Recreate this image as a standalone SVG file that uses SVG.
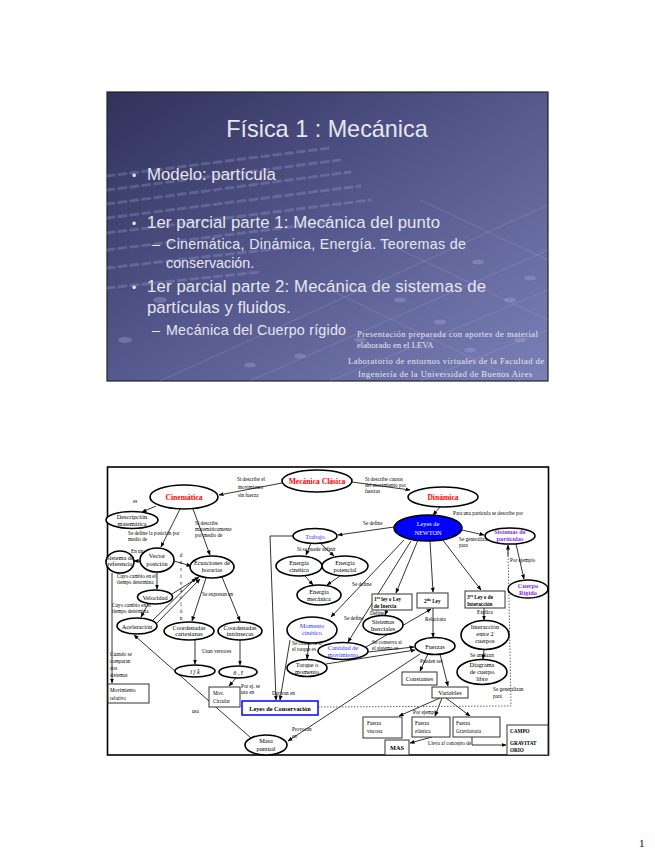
<svg xmlns="http://www.w3.org/2000/svg" width="655" height="848" viewBox="0 0 655 848">
<defs>
<linearGradient id="bg" x1="0" y1="0" x2="1" y2="1">
<stop offset="0" stop-color="#30325a"/>
<stop offset="0.5" stop-color="#55598e"/>
<stop offset="1" stop-color="#7b80b6"/>
</linearGradient>
<marker id="ah" viewBox="0 0 10 10" refX="9" refY="5" markerWidth="5" markerHeight="5" orient="auto" markerUnits="userSpaceOnUse"><path d="M0,1 L10,5 L0,9 z" fill="#000"/></marker>
<style>
.st{font-family:"Liberation Sans",Arial,sans-serif;fill:#e6e6f0}
.sm{font-family:"Liberation Serif","Times New Roman",serif;fill:#e6e6f0;font-size:8.6px}
.deco{stroke:#a9addc;stroke-opacity:.28;fill:none}
.n{font-family:"Liberation Serif","Times New Roman",serif;font-size:6.3px;text-anchor:middle;fill:#000}
.t{font-family:"Liberation Serif","Times New Roman",serif;font-size:5.2px;fill:#000}
.b{font-weight:bold}
.red{fill:#ff0000;font-weight:bold;font-size:7.6px}
.blu{fill:#3030ff}
.pur{fill:#8a2be2;font-weight:bold}
.el{fill:#fff;stroke:#000;stroke-width:1.6}
.bx{fill:#fff;stroke:#333;stroke-width:1}
.c{stroke:#000;stroke-width:0.8;fill:none;marker-end:url(#ah)}
.dot{stroke:#666;stroke-width:1;stroke-dasharray:1.5 1.5;fill:none}
</style>
</defs>
<rect width="655" height="848" fill="#fff"/>

<!-- Slide 1 -->
<g id="slide">
<rect x="107" y="92" width="441" height="289" fill="url(#bg)" stroke="#222" stroke-width="1.2"/>
<g class="deco" stroke-width="3" stroke-dasharray="7 5" stroke-linecap="round">
<path d="M107,176 L330,148"/><path d="M107,190 L340,160"/><path d="M107,204 L350,172"/>
<path d="M107,218 L360,186"/><path d="M107,233 L370,200"/><path d="M107,250 L330,222"/>
<path d="M107,268 L300,246"/><path d="M107,288 L260,272"/>
</g>
<g class="deco" stroke-width="1">
<path d="M250,381 L548,250"/><path d="M330,381 L548,290"/><path d="M420,381 L548,330"/>
<path d="M160,381 L548,205"/><path d="M420,200 L548,260"/><path d="M380,240 L548,320"/>
<path d="M330,290 L520,381"/>
</g>
<g fill="#a9addc" fill-opacity=".35">
<ellipse cx="478" cy="262" rx="6" ry="2.5"/><ellipse cx="510" cy="300" rx="6" ry="2.5"/><ellipse cx="530" cy="278" rx="6" ry="2.5"/>
<ellipse cx="440" cy="322" rx="6" ry="2.5"/><ellipse cx="470" cy="350" rx="6" ry="2.5"/><ellipse cx="520" cy="340" rx="6" ry="2.5"/>
<ellipse cx="400" cy="300" rx="6" ry="2.5"/><ellipse cx="360" cy="340" rx="6" ry="2.5"/><ellipse cx="300" cy="356" rx="6" ry="2.5"/>
<ellipse cx="250" cy="365" rx="6" ry="2.5"/><ellipse cx="125" cy="340" rx="7" ry="3"/><ellipse cx="160" cy="300" rx="7" ry="3"/>
</g>
<text class="st" x="327" y="137" font-size="23.4" text-anchor="middle" fill="#dcdce8">Física 1 : Mecánica</text>
<text class="st" x="132" y="180" font-size="12">•</text>
<text class="st" x="147" y="180" font-size="16.8">Modelo: partícula</text>
<text class="st" x="132" y="228" font-size="12">•</text>
<text class="st" x="147" y="228" font-size="16.8" textLength="293">1er parcial parte 1: Mecánica del punto</text>
<text class="st" x="152" y="249" font-size="14.3">–</text>
<text class="st" x="166" y="249" font-size="14.3" textLength="300">Cinemática, Dinámica, Energía. Teoremas de</text>
<text class="st" x="166" y="268" font-size="14.3">conservación.</text>
<text class="st" x="132" y="292" font-size="12">•</text>
<text class="st" x="147" y="292" font-size="16.8" textLength="339">1er parcial parte 2: Mecánica de sistemas de</text>
<text class="st" x="147" y="313" font-size="16.8">partículas y fluidos.</text>
<text class="st" x="152" y="335" font-size="14.3">–</text>
<text class="st" x="166" y="335" font-size="14.3" textLength="180">Mecánica del Cuerpo rígido</text>
<text class="sm" x="357" y="337" textLength="181">Presentación preparada con aportes de material</text>
<text class="sm" x="357" y="348">elaborado en el LEVA</text>
<text class="sm" x="348" y="364" textLength="196">Laboratorio de entornos virtuales de la Facultad de</text>
<text class="sm" x="358" y="377" textLength="174">Ingeniería de la Universidad de Buenos Aires</text>
</g>

<!-- Concept map frame -->
<rect x="107.5" y="467" width="441" height="288" fill="#fff" stroke="#000" stroke-width="1.6"/>

<g id="connectors">
<path class="c" d="M282,483 L219,495"/>
<path class="c" d="M352,482 L410,490"/>
<path class="c" d="M156,506 L142,512"/>
<path class="c" d="M180,509 L161,547"/>
<path class="c" d="M193,509 L210,555"/>
<path class="c" d="M140,561 L134,561"/>
<path class="c" d="M157,572 L157,589"/>
<path class="c" d="M174,561 L191,566"/>
<path class="c" d="M148,604 L141,617"/>
<path class="c" d="M172,594 L199,577"/>
<path class="c" d="M153,620 L196,578"/>
<path class="c" d="M157,623 L200,579"/>
<path class="c" d="M112,573 L112,683"/>
<path class="c" d="M206,578 L192,621"/>
<path class="c" d="M222,577 L240,621"/>
<path class="c" d="M195,640 L195,664"/>
<path class="c" d="M240,640 L240,665"/>
<path class="c" d="M236,678 L229,686"/>
<path class="c" d="M251,738 L134,635"/>
<path class="c" d="M440,507 L433,515"/>
<path class="c" d="M462,530 L484,535"/>
<path class="c" d="M516,544 L524,579"/>
<path class="c" d="M394,527 L338,535"/>
<path class="c" d="M311,543 L306,555"/>
<path class="c" d="M320,543 L334,556"/>
<path class="c" d="M305,576 L313,585"/>
<path class="c" d="M340,576 L327,585"/>
<path class="c" d="M293,536 L270,536 L276,700"/>
<path class="c" d="M290,640 L280,700"/>
<path class="c" d="M404,540 L331,617"/>
<path class="c" d="M411,541 L348,642"/>
<path class="c" d="M418,540 L396,593"/>
<path class="c" d="M430,541 L433,592"/>
<path class="c" d="M442,539 L481,590"/>
<path class="c" d="M387,610 L385,615"/>
<path class="c" d="M309,643 L307,659"/>
<path class="c" d="M366,647 L431,609"/>
<path class="c" d="M368,652 L414,647"/>
<path class="c" d="M326,664 L415,650"/>
<path class="c" d="M433,608 L433,637"/>
<path class="c" d="M484,608 L484,620"/>
<path class="c" d="M484,650 L483,659"/>
<path class="c" d="M428,654 L420,671"/>
<path class="c" d="M440,654 L448,686"/>
<path class="c" d="M420,654 L288,741"/>
<path class="c" d="M440,698 L399,716"/>
<path class="c" d="M442,698 L435,716"/>
<path class="c" d="M446,698 L470,716"/>
<path class="c" d="M432,737 L410,743"/>
<path class="c" d="M472,737 L472,745 L506,745"/>
<path class="dot" d="M318,707 L511,706 L508,548"/>
<path class="c" d="M508,556 L508,545"/>
</g>

<g id="labels">
<text class="t" x="237" y="481">Si describe el</text>
<text class="t" x="238" y="489">movimiento</text>
<text class="t" x="238" y="497">sin fuerza</text>
<text class="t" x="365" y="481">Si describe causas</text>
<text class="t" x="365" y="487">del movimiento por</text>
<text class="t" x="365" y="493">fuerzas</text>
<text class="t" x="133" y="503">es</text>
<text class="t" x="128" y="535">Se define la posición por</text>
<text class="t" x="128" y="541">medio de</text>
<text class="t" x="195" y="525">Si describe</text>
<text class="t" x="195" y="531">matemáticamente</text>
<text class="t" x="195" y="537">por medio de</text>
<text class="t" x="131" y="553">En un</text>
<text class="t" x="117" y="578">Cuyo cambio en el</text>
<text class="t" x="117" y="584">tiempo determina</text>
<text class="t" x="112" y="607">Cuyo cambio en el</text>
<text class="t" x="112" y="613">tiempo determina</text>
<text class="t" x="181" y="557" text-anchor="middle"><tspan x="181">d</tspan><tspan x="181" dy="7">e</tspan><tspan x="181" dy="7">r</tspan><tspan x="181" dy="7">i</tspan><tspan x="181" dy="7">v</tspan><tspan x="181" dy="7">a</tspan><tspan x="181" dy="7">c</tspan><tspan x="181" dy="7">i</tspan><tspan x="181" dy="7">ó</tspan><tspan x="181" dy="7">n</tspan></text>
<text class="t" x="202" y="596">Se expresan en</text>
<text class="t" x="202" y="653">Usan versores</text>
<text class="t" x="110" y="656">Cuando se</text>
<text class="t" x="110" y="663">comparan</text>
<text class="t" x="110" y="670">dos</text>
<text class="t" x="110" y="677">sistemas</text>
<text class="t" x="241" y="688">Por ej. se</text>
<text class="t" x="241" y="694">usa en</text>
<text class="t" x="192" y="713">usa</text>
<text class="t" x="272" y="695">Derivan en</text>
<text class="t" x="292" y="731">Provocan</text>
<text class="t" x="292" y="738">en</text>
<text class="t" x="453" y="515">Para una partícula se describe por</text>
<text class="t" x="459" y="541">Se generalizan</text>
<text class="t" x="459" y="547">para</text>
<text class="t" x="510" y="562">Por ejemplo</text>
<text class="t" x="363" y="525">Se define</text>
<text class="t" x="297" y="551">Si se puede definir</text>
<text class="t" x="352" y="586">Se define</text>
<text class="t" x="344" y="620">Se define</text>
<text class="t" x="370" y="615">Define</text>
<text class="t" x="425" y="621">Relaciona</text>
<text class="t" x="477" y="614">Explica</text>
<text class="t" x="292" y="645">Se conserva si</text>
<text class="t" x="292" y="651">el torque es</text>
<text class="t" x="372" y="644">Se conserva si</text>
<text class="t" x="372" y="650">el sistema es</text>
<text class="t" x="470" y="657">Se analizan</text>
<text class="t" x="420" y="663">Pueden ser</text>
<text class="t" x="413" y="714">Por ejemplo</text>
<text class="t" x="428" y="745">Lleva al concepto de</text>
<text class="t" x="493" y="691">Se generalizan</text>
<text class="t" x="493" y="698">para</text>
</g>

<g id="mecanica-clasica"><ellipse class="el" cx="317" cy="481" rx="35" ry="11"/><text class="n red" x="317" y="484" font-size="8.4">Mecánica Clásica</text></g>
<g id="cinematica"><ellipse class="el" cx="184" cy="497" rx="34" ry="12"/><text class="n red" x="184" y="500">Cinemática</text></g>
<g id="dinamica"><ellipse class="el" cx="443" cy="497" rx="35" ry="10"/><text class="n red" x="443" y="500">Dinámica</text></g>
<g id="descripcion"><ellipse class="el" cx="132" cy="520" rx="26" ry="8.5"/><text class="n" x="132" y="518.5">Descripción</text><text class="n" x="132" y="525.5">matemática</text></g>
<g id="vector"><ellipse class="el" cx="157" cy="560" rx="17" ry="12"/><text class="n" x="157" y="558" font-size="7">Vector</text><text class="n" x="157" y="565.5" font-size="7">posición</text></g>
<g id="sistema-ref"><ellipse class="el" cx="120" cy="562" rx="14" ry="11"/><text class="n" x="120" y="560" font-size="5.2">Sistema de</text><text class="n" x="120" y="566" font-size="5.2">referencia</text></g>
<g id="ecuaciones"><ellipse class="el" cx="212" cy="567" rx="22" ry="11"/><text class="n" x="212" y="565" font-size="6">Ecuaciones de</text><text class="n" x="212" y="572" font-size="6">horarias</text></g>
<g id="velocidad"><ellipse class="el" cx="155" cy="597" rx="17.5" ry="7"/><text class="n" x="155" y="599.5">Velocidad</text></g>
<g id="aceleracion"><ellipse class="el" cx="137" cy="626" rx="20" ry="8"/><text class="n" x="137" y="628.5">Aceleración</text></g>
<g id="cartesianas"><ellipse class="el" cx="189" cy="631" rx="25" ry="9"/><text class="n" x="189" y="629.5">Coordenadas</text><text class="n" x="189" y="636">cartesianas</text></g>
<g id="intrinsecas"><ellipse class="el" cx="240" cy="631" rx="22" ry="9"/><text class="n" x="240" y="629.5">Coordenadas</text><text class="n" x="240" y="636">intrínsecas</text></g>
<g id="ijk"><ellipse class="el" cx="195" cy="671" rx="20" ry="6"/><text class="n" x="195" y="674" font-size="8" font-style="italic">î  ĵ  k̂</text></g>
<g id="nt"><ellipse class="el" cx="238" cy="672" rx="19" ry="6"/><text class="n" x="238" y="675" font-size="8" font-style="italic">n̂ , t̂</text></g>
<g id="mov-circular"><rect class="bx" x="209" y="687" width="31" height="20"/><text class="t" x="213" y="695" font-size="6">Mov.</text><text class="t" x="213" y="703" font-size="6">Circular</text></g>
<g id="mov-relativo"><rect class="bx" x="108" y="684" width="41" height="19"/><text class="t" x="110" y="692" font-size="6">Movimiento</text><text class="t" x="110" y="700" font-size="6">relativo</text></g>
<g id="leyes-conservacion"><rect x="242" y="701" width="76" height="14" fill="#fff" stroke="#0000ff" stroke-width="1.5"/><text class="n b" x="280" y="710.5" font-size="6.2">Leyes de Conservación</text></g>
<g id="masa"><ellipse class="el" cx="266" cy="745" rx="21" ry="10"/><text class="n" x="266" y="743">Masa</text><text class="n" x="266" y="750.5">puntual</text></g>
<g id="trabajo"><ellipse class="el" cx="315" cy="536" rx="22" ry="7.5"/><text class="n blu" x="315" y="538.5">Trabajo</text></g>
<g id="newton"><ellipse cx="428" cy="528" rx="34" ry="13" fill="#0000ff" stroke="#000" stroke-width="1.6"/><text class="n" x="428" y="526" font-size="8" style="fill:#fff">Leyes de</text><text class="n" x="428" y="535" font-size="8" style="fill:#fff">NEWTON</text></g>
<g id="sistemas-particulas"><ellipse class="el" cx="510" cy="536" rx="25" ry="8"/><text class="n pur" x="510" y="534" font-size="5.8">Sistemas de</text><text class="n pur" x="510" y="541" font-size="5.8">partículas</text></g>
<g id="cuerpo-rigido"><ellipse class="el" cx="528" cy="589" rx="20" ry="9"/><text class="n pur" x="528" y="588">Cuerpo</text><text class="n pur" x="528" y="595">Rígido</text></g>
<g id="energia-cinetica"><ellipse class="el" cx="299" cy="566" rx="23" ry="10"/><text class="n" x="299" y="564.5">Energía</text><text class="n" x="299" y="571.5">cinética</text></g>
<g id="energia-potencial"><ellipse class="el" cx="345" cy="566" rx="23" ry="10"/><text class="n" x="345" y="564.5">Energía</text><text class="n" x="345" y="571.5">potencial</text></g>
<g id="energia-mecanica"><ellipse class="el" cx="319" cy="595" rx="22" ry="10"/><text class="n" x="319" y="593.5">Energía</text><text class="n" x="319" y="600.5">mecánica</text></g>
<g id="ley1"><rect class="bx" x="372" y="594" width="40" height="16"/><text class="t b" x="374" y="601" font-size="5.2">1<tspan font-size="3.5" dy="-2">ra</tspan><tspan dy="2"> ley o Ley</tspan></text><text class="t b" x="374" y="608" font-size="5.2">de Inercia</text></g>
<g id="ley2"><rect class="bx" x="417" y="593" width="31" height="15"/><text class="t b" x="424" y="602.5" font-size="6">2<tspan font-size="4" dy="-2">da</tspan><tspan dy="2"> Ley</tspan></text></g>
<g id="ley3"><rect class="bx" x="465" y="591" width="40" height="17"/><text class="t b" x="467" y="598.5" font-size="5.2">3<tspan font-size="3.5" dy="-2">ra</tspan><tspan dy="2"> Ley o de</tspan></text><text class="t b" x="467" y="606" font-size="5.2">Interacción</text></g>
<g id="inerciales"><ellipse class="el" cx="383" cy="625" rx="20" ry="9.5"/><text class="n" x="383" y="623.5">Sistemas</text><text class="n" x="383" y="630.5">Inerciales</text></g>
<g id="momento-cinetico"><ellipse class="el" cx="312" cy="630" rx="25" ry="13"/><text class="n blu" x="312" y="628">Momento</text><text class="n blu" x="312" y="635">cinético</text></g>
<g id="torque"><ellipse class="el" cx="307" cy="668" rx="20" ry="8.5"/><text class="n" x="307" y="666.5">Torque o</text><text class="n" x="307" y="673.5">momento</text></g>
<g id="cantidad"><ellipse class="el" cx="343" cy="651" rx="25" ry="8.5"/><text class="n blu" x="343" y="649.5">Cantidad de</text><text class="n blu" x="343" y="656.5">movimiento</text></g>
<g id="fuerzas"><ellipse class="el" cx="435" cy="646" rx="20" ry="8.5"/><text class="n" x="435" y="648.5" font-size="7">Fuerzas</text></g>
<g id="interaccion"><ellipse class="el" cx="485" cy="635" rx="24" ry="14.5"/><text class="n" x="485" y="629">Interacción</text><text class="n" x="485" y="636">entre 2</text><text class="n" x="485" y="643">cuerpos</text></g>
<g id="diagrama"><ellipse class="el" cx="482" cy="672" rx="25" ry="12.5"/><text class="n" x="482" y="666.5">Diagrama</text><text class="n" x="482" y="673.5">de cuerpo</text><text class="n" x="482" y="680.5">libre</text></g>
<g id="constantes"><rect class="bx" x="402" y="672" width="35" height="13"/><text class="n" x="419.5" y="680.5">Constantes</text></g>
<g id="variables"><rect class="bx" x="432" y="687" width="36" height="11"/><text class="n" x="450" y="694.5">Variables</text></g>
<g id="viscosa"><rect class="bx" x="363" y="717" width="39" height="21"/><text class="t" x="367" y="725" font-size="6">Fuerza</text><text class="t" x="367" y="733" font-size="6">viscosa</text></g>
<g id="elastica"><rect class="bx" x="412" y="717" width="38" height="20"/><text class="t" x="415" y="725" font-size="6">Fuerza</text><text class="t" x="415" y="733" font-size="6">elástica</text></g>
<g id="gravitatoria"><rect class="bx" x="453" y="717" width="47" height="20"/><text class="t" x="456" y="725" font-size="6">Fuerza</text><text class="t" x="456" y="733" font-size="6">Gravitatoria</text></g>
<g id="mas"><rect class="bx" x="385" y="740" width="24" height="15"/><text class="n b" x="397" y="750" font-size="6">MAS</text></g>
<g id="campo"><rect class="bx" x="507" y="725" width="41" height="30"/><text class="t b" x="510" y="733" font-size="5.8">CAMPO</text><text class="t b" x="510" y="745" font-size="5.8">GRAVITAT</text><text class="t b" x="510" y="752" font-size="5.8">ORIO</text></g>

<text x="639" y="847" font-family="Liberation Serif, serif" font-size="11" fill="#000">1</text>
</svg>
